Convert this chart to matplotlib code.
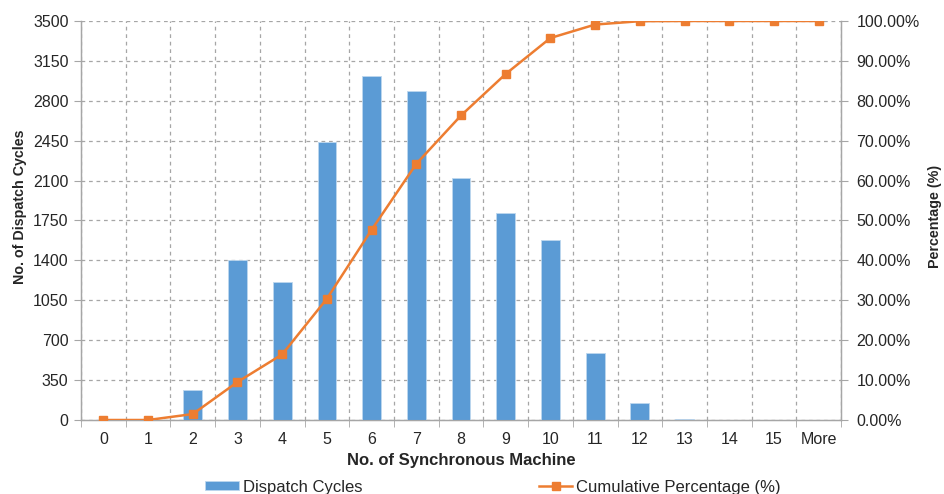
import numpy as np
import matplotlib
matplotlib.use('Agg')
import matplotlib.pyplot as plt
from matplotlib.ticker import PercentFormatter, FixedLocator

plt.rcParams['font.family'] = ['Liberation Sans', 'DejaVu Sans']

machines = ['0', '1', '2', '3', '4', '5', '6', '7', '8', '9', '10', '11', '12', '13', '14', '15', 'More']
cycles = [0, 0, 260, 1405, 1210, 2440, 3020, 2890, 2120, 1820, 1575, 590, 146, 8, 0, 0, 0]
cum_pct = [0.0, 0.0, 1.49, 9.52, 16.44, 30.40, 47.67, 64.20, 76.32, 86.73, 95.74, 99.11, 99.95, 100.0, 100.0, 100.0, 100.0]

bar_col = '#5B9BD5'
line_col = '#ED7D31'
grid_col = '#A6A6A6'
txt_col = '#262626'
tick_fs = 11.5

fig = plt.figure(figsize=(9.45, 4.94), dpi=100)
ax = fig.add_axes([0.0857, 0.1498, 0.8043, 0.8077])
x = np.arange(len(machines))

bars = ax.bar(x, cycles, width=0.42, color=bar_col, edgecolor='#BDD7EE', linewidth=0.6,
              label='Dispatch Cycles', zorder=3)
ax.set_xlim(-0.5, len(machines) - 0.5)
ax.set_ylim(0, 3500)
ax.set_yticks(np.arange(0, 3501, 350))
ax.set_xticks(x)
ax.set_xticklabels(machines)
ax.xaxis.set_minor_locator(FixedLocator(np.arange(-0.5, len(machines), 1.0)))
ax.tick_params(axis='x', which='major', length=0, pad=9, labelsize=tick_fs, labelcolor=txt_col)
ax.tick_params(axis='x', which='minor', length=5, color=grid_col, direction='out')
ax.tick_params(axis='y', length=5, color=grid_col, labelsize=tick_fs, labelcolor=txt_col, pad=4)
ax.grid(axis='y', which='major', linestyle=(0, (3, 3)), color=grid_col, linewidth=0.9, zorder=0)
ax.grid(axis='x', which='minor', linestyle=(0, (3, 3)), color=grid_col, linewidth=0.9, zorder=0)
ax.spines['top'].set_visible(False)
for s in ['left', 'right', 'bottom']:
    ax.spines[s].set_color(grid_col)
    ax.spines[s].set_linewidth(1.0)
ax.set_axisbelow(True)

ax.set_xlabel('No. of Synchronous Machine', fontsize=12, fontweight='bold', color=txt_col, labelpad=4)
ax.set_ylabel('No. of Dispatch Cycles', fontsize=10.3, fontweight='bold', color=txt_col)
ax.yaxis.set_label_coords(-0.071, 0.535)

ax2 = ax.twinx()
line, = ax2.plot(x, cum_pct, color=line_col, linewidth=1.8, marker='s', markersize=5.5,
                 label='Cumulative Percentage (%)', zorder=4)
ax2.set_ylim(0, 100)
ax2.set_yticks(np.arange(0, 101, 10))
ax2.yaxis.set_major_formatter(PercentFormatter(decimals=2))
ax2.tick_params(axis='y', length=5, color=grid_col, labelsize=tick_fs, labelcolor=txt_col, pad=6)
ax2.spines['top'].set_visible(False)
for s in ['left', 'right', 'bottom']:
    ax2.spines[s].set_color(grid_col)
ax2.set_ylabel('Percentage (%)', fontsize=10.3, fontweight='bold', color=txt_col)
ax2.yaxis.set_label_coords(1.114, 0.51)

fig.legend(handles=[bars, line], loc='center left', bbox_to_anchor=(197 / 945, 1 - 487 / 494), ncol=2,
           frameon=False, fontsize=12, columnspacing=10.6, handlelength=2.0, borderpad=0,
           handleheight=0.42, handletextpad=0.25, labelcolor=txt_col)

fig.savefig('out.png', dpi=100)
